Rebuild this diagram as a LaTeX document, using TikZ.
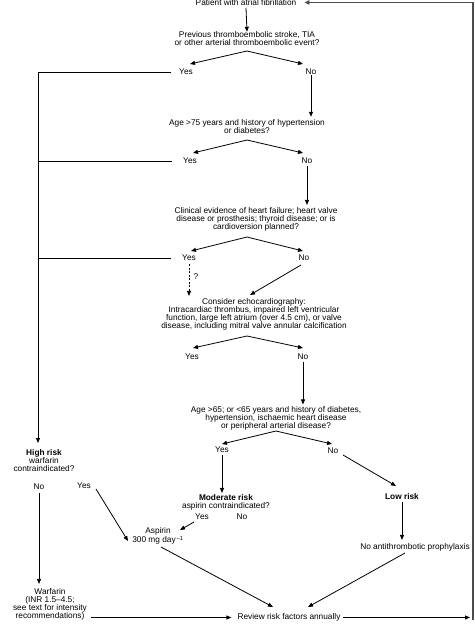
\documentclass[tikz,border=0pt]{standalone}
\usepackage{fontspec}
\setmainfont{Liberation Sans}
\usetikzlibrary{arrows.meta}
\begin{document}
\begin{tikzpicture}[x=1pt,y=-1pt,
 txt/.style={font=\fontsize{8.3}{8}\selectfont, align=center, inner sep=0pt},
 ln/.style={line width=0.8pt},
 arr/.style={ln,-{Triangle[length=5pt,width=4pt]}},
 dsh/.style={arr,dash pattern=on 2pt off 1.5pt},
 ret/.style={line width=1.6pt, draw=black!70, -{Triangle[length=5pt,width=4.5pt]}}]
\useasboundingbox (0,0) rectangle (474,636);

% nodes
\node[txt, anchor=base] (pat) at (246,5.5) {Patient with atrial fibrillation};
\node[txt] (q1) at (247,39) {Previous thromboembolic stroke, TIA\\or other arterial thromboembolic event?};
\node[txt] (y1) at (186,72) {Yes};
\node[txt] (n1) at (311,72) {No};
\node[txt] (q2) at (247,127) {Age >75 years and history of hypertension\\or diabetes?};
\node[txt] (y2) at (190,161) {Yes};
\node[txt] (n2) at (307,161) {No};
\node[txt] (q3) at (256,219) {Clinical evidence of heart failure; heart valve\\disease or prosthesis; thyroid disease; or is\\cardioversion planned?};
\node[txt] (y3) at (189,258) {Yes};
\node[txt] (n3) at (304,258) {No};
\node[txt] (qm) at (196,277) {?};
\node[txt] (q4) at (254,314) {Consider echocardiography:\\Intracardiac thrombus, impaired left ventricular\\function, large left atrium (over 4.5 cm), or valve\\disease, including mitral valve annular calcification};
\node[txt] (y4) at (192,357) {Yes};
\node[txt] (n4) at (303,357) {No};
\node[txt] (q5) at (276,418.5) {Age >65; or <65 years and history of diabetes,\\hypertension, ischaemic heart disease\\or peripheral arterial disease?};
\node[txt] (y5) at (222,450) {Yes};
\node[txt] (n5) at (333,451) {No};
\node[txt] (hr) at (44,461) {\textbf{High risk}\\warfarin\\contraindicated?};
\node[txt] (hno) at (39,487) {No};
\node[txt] (hyes) at (84,486) {Yes};
\node[txt] (mr) at (226,502) {\textbf{Moderate risk}\\aspirin contraindicated?};
\node[txt] (myes) at (202,517) {Yes};
\node[txt] (mno) at (242,517) {No};
\node[txt] (asp) at (158,536) {Aspirin\\300 mg day\textsuperscript{\,--1}};
\node[txt] (lr) at (402,497) {\textbf{Low risk}};
\node[txt] (noat) at (415,547) {No antithrombotic prophylaxis};
\node[txt] (warf) at (50,604) {Warfarin\\(INR 1.5--4.5;\\see text for intensity\\recommendations)};
\node[txt] (rev) at (289,617.5) {Review risk factors annually};

% helper coordinates
\coordinate (a1) at (247,51);  \coordinate (t1l) at (190,64);  \coordinate (t1r) at (303,64);
\coordinate (a2) at (247,140); \coordinate (t2l) at (193,153); \coordinate (t2r) at (303,153);
\coordinate (a3) at (247,237); \coordinate (t3l) at (191,251); \coordinate (t3r) at (303,251);
\coordinate (a4) at (247,336); \coordinate (t4l) at (193,348); \coordinate (t4r) at (303,348);
\coordinate (a5) at (276,431); \coordinate (t5l) at (222,444); \coordinate (t5r) at (332,444);
\coordinate (L1) at (38,72);
\coordinate (Lend) at (38,443);
\coordinate (s3) at (301,265); \coordinate (e3) at (250,295);
\coordinate (s5) at (343,455); \coordinate (e5) at (396,486);
\coordinate (sy) at (96,489);  \coordinate (ey) at (128,541);
\coordinate (sm) at (194,522); \coordinate (em) at (180,530);
\coordinate (sa) at (161,547); \coordinate (ea) at (273,607);
\coordinate (sn) at (405,553); \coordinate (en) at (308,607);
\coordinate (rr) at (470,617.5);
\coordinate (rb) at (473.2,619.5);
\coordinate (pe) at ([xshift=8pt]pat.east);
\coordinate (rt) at (pe -| rb);

% connectors
\draw[arr] ([yshift=-2pt]pat.south) -- (q1.north);
\draw[arr] (a1) -- (t1l); \draw[arr] (a1) -- (t1r);
\draw[arr] (n1.south) -- ([yshift=3pt]n1.south |- q2.north);
\draw[arr] (a2) -- (t2l); \draw[arr] (a2) -- (t2r);
\draw[arr] ([yshift=-2pt]n2.south) -- ([yshift=2pt]n2.south |- q3.north);
\draw[arr] (a3) -- (t3l); \draw[arr] (a3) -- (t3r);
\draw[dsh] ([yshift=-3pt]y3.south) -- ([yshift=2pt]y3.south |- q4.north);
\draw[arr] (s3) -- (e3);
\draw[arr] (a4) -- (t4l); \draw[arr] (a4) -- (t4r);
\draw[arr] ([yshift=-2pt]n4.south) -- ([yshift=2pt]n4.south |- q5.north);
\draw[arr] (a5) -- (t5l); \draw[arr] (a5) -- (t5r);

\draw[arr] ([xshift=-8pt]y1.west) -- (L1) -- (Lend);
\draw[ln] ([xshift=-11pt]y2.west) -- (y2.west -| L1);
\draw[ln] ([xshift=-11pt]y3.west) -- (y3.west -| L1);

\draw[arr] ([yshift=-2pt]y5.south) -- ([yshift=1pt]y5.south |- mr.north);
\draw[arr] (s5) -- (e5);
\draw[arr] ([yshift=-2pt]lr.south) -- ([yshift=3pt]lr.south |- noat.north);
\draw[arr] (sy) -- (ey);
\draw[arr] (sm) -- (em);
\draw[arr] ([yshift=-3pt]hno.south) -- ([yshift=4pt]hno.south |- warf.north);
\draw[arr] (sa) -- (ea);
\draw[arr] (sn) -- (en);
\draw[arr] ([xshift=4pt]warf.east |- rev.west) -- ([xshift=-6pt]rev.west);
\draw[arr] ([xshift=2pt]rev.east) -- (rr);
\draw[ret] (rb) -- (rt) -- (pe);
\end{tikzpicture}
\end{document}
